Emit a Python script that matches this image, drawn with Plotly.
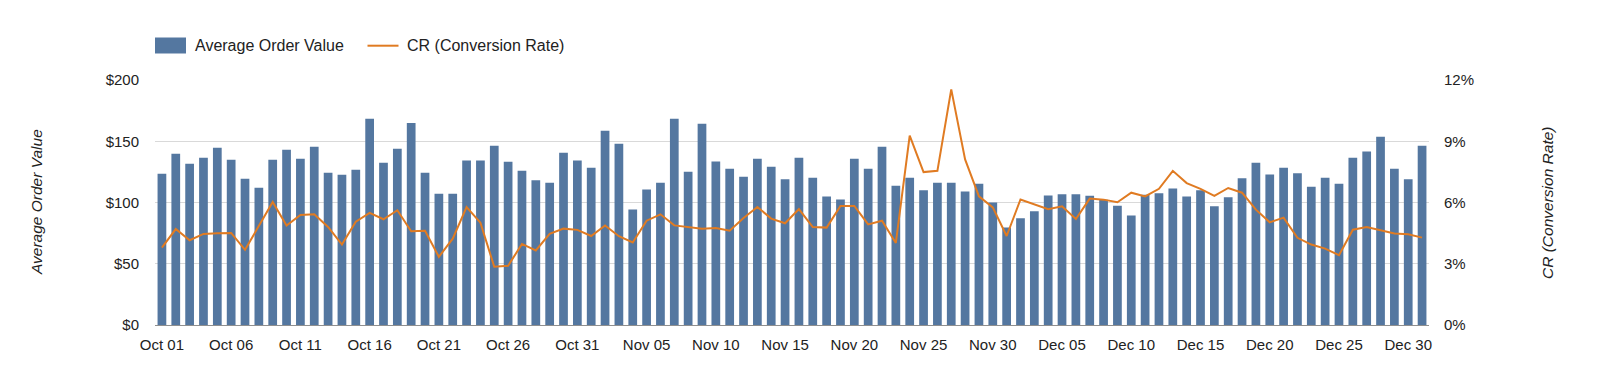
import pandas as pd
import plotly.graph_objects as go

# ---- data ----
dates = pd.date_range("2016-10-01", "2016-12-31", freq="D").strftime("%Y-%m-%d").tolist()

aov = [
    # Oct
    123.5, 139.8, 131.6, 136.5, 144.7, 134.9, 119.4, 112.1, 134.9, 143.0,
    135.7, 145.5, 124.3, 122.7, 126.7, 168.3, 132.4, 143.8, 165.0, 124.3,
    107.2, 107.2, 134.3, 134.3, 146.3, 133.3, 125.9, 118.1, 116.2, 140.6,
    134.3,
    # Nov
    128.4, 158.5, 147.9, 94.2, 110.7, 116.2, 168.3, 125.1, 164.2, 133.5,
    127.6, 121.0, 135.7, 129.2, 118.9, 136.5, 120.2, 104.8, 102.4, 135.7,
    127.6, 145.5, 113.7, 120.2, 109.9, 116.2, 116.2, 109.0, 115.3, 100.0,
    # Dec
    79.5, 87.1, 92.8, 105.7, 106.7, 106.7, 105.6, 102.3, 97.4, 89.3,
    106.4, 107.5, 111.5, 105.0, 109.9, 96.9, 104.2, 119.7, 132.4, 122.9,
    128.4, 123.8, 112.9, 120.2, 115.3, 136.5, 141.7, 153.6, 127.6, 118.9,
    146.3,
]

cr = [
    # Oct
    3.79, 4.70, 4.15, 4.46, 4.49, 4.51, 3.68, 4.85, 6.02, 4.87,
    5.39, 5.42, 4.80, 3.94, 5.06, 5.49, 5.18, 5.62, 4.59, 4.62,
    3.34, 4.23, 5.78, 5.01, 2.85, 2.90, 3.97, 3.65, 4.46, 4.72,
    4.66,
    # Nov
    4.36, 4.87, 4.35, 4.04, 5.11, 5.42, 4.88, 4.79, 4.72, 4.75,
    4.62, 5.24, 5.78, 5.21, 4.98, 5.68, 4.80, 4.77, 5.83, 5.83,
    4.93, 5.11, 4.02, 9.28, 7.49, 7.55, 11.54, 8.11, 6.30, 5.76,
    # Dec
    4.36, 6.15, 5.91, 5.67, 5.81, 5.19, 6.19, 6.14, 6.01, 6.48,
    6.30, 6.67, 7.55, 6.95, 6.67, 6.32, 6.71, 6.48, 5.65, 5.03,
    5.26, 4.27, 3.94, 3.74, 3.42, 4.67, 4.80, 4.64, 4.48, 4.44,
    4.28,
]

bar_name = "Average Order Value"
line_name = "CR (Conversion Rate)"

BAR_COLOR = "#5477A0"
LINE_COLOR = "#E07B22"
FONT = "Liberation Sans, Arial, Helvetica, sans-serif"
TXT = "#222222"

# ---- layout geometry (pixels, figure coords; page has an 8px body margin) ----
OFF = 8
W, H = 1600, 377
ML, MT = 155 - OFF, 80 - OFF
MR = W - (1429 - OFF)
MB = H - (325 - OFF)
PW = W - ML - MR
PH = H - MT - MB


def px_x(x):
    """page x pixel -> paper coordinate"""
    return (x - OFF - ML) / PW


def px_y(y):
    """page y pixel -> paper coordinate"""
    return 1 + (MT - (y - OFF)) / PH


fig = go.Figure()
fig.add_trace(go.Bar(
    x=dates, y=aov, name=bar_name, marker=dict(color=BAR_COLOR, line=dict(width=0)),
    yaxis="y", showlegend=False,
))
fig.add_trace(go.Scatter(
    x=dates, y=cr, name=line_name, mode="lines",
    line=dict(color=LINE_COLOR, width=2), yaxis="y2", showlegend=False,
))

fig.update_layout(
    width=W, height=H,
    margin=dict(l=ML, r=MR, t=MT, b=MB, pad=0),
    paper_bgcolor="white", plot_bgcolor="white",
    bargap=0.37,
    font=dict(family=FONT, size=15, color=TXT),
    xaxis=dict(
        type="date",
        range=["2016-09-30 12:00", "2016-12-31 12:00"],
        tick0="2016-10-01", dtick=5 * 86400000,
        tickformat="%b %d",
        showgrid=False, zeroline=False,
        showline=True, linecolor="#8f8f8f", linewidth=1,
        ticks="", ticklabelstandoff=6,
        tickfont=dict(size=15, color=TXT),
    ),
    yaxis=dict(
        range=[0, 200], dtick=50, tickprefix="$",
        showgrid=True, gridcolor="#d9d9d9", gridwidth=1,
        zeroline=False, showline=False, ticks="",
        ticklabelstandoff=15,
        tickfont=dict(size=15, color=TXT),
    ),
    yaxis2=dict(
        range=[0, 12], dtick=3, ticksuffix="%",
        overlaying="y", side="right",
        showgrid=False, zeroline=False, showline=False, ticks="",
        ticklabelstandoff=14,
        tickfont=dict(size=15, color=TXT),
    ),
    showlegend=False,
)

# manual legend
fig.add_shape(type="rect", xref="paper", yref="paper",
              x0=px_x(155), x1=px_x(186), y0=px_y(53.5), y1=px_y(37.5),
              fillcolor=BAR_COLOR, line=dict(width=0))
fig.add_annotation(text=bar_name, xref="paper", yref="paper",
                   x=px_x(193), y=px_y(45.7), xanchor="left", yanchor="middle",
                   showarrow=False, font=dict(size=16, color=TXT, family=FONT))
fig.add_shape(type="line", xref="paper", yref="paper",
              x0=px_x(367.5), x1=px_x(398.5), y0=px_y(45.7), y1=px_y(45.7),
              line=dict(color=LINE_COLOR, width=2))
fig.add_annotation(text=line_name, xref="paper", yref="paper",
                   x=px_x(405), y=px_y(45.7), xanchor="left", yanchor="middle",
                   showarrow=False, font=dict(size=16, color=TXT, family=FONT))

# axis titles
fig.add_annotation(text="<i>" + bar_name + "</i>", xref="paper", yref="paper",
                   x=px_x(36), y=px_y(202), xanchor="center", yanchor="middle",
                   textangle=-90, showarrow=False,
                   font=dict(size=15.5, color=TXT, family=FONT))
fig.add_annotation(text="<i>" + line_name + "</i>", xref="paper", yref="paper",
                   x=px_x(1547), y=px_y(203), xanchor="center", yanchor="middle",
                   textangle=-90, showarrow=False,
                   font=dict(size=15.5, color=TXT, family=FONT))

fig.write_html("out.html")
